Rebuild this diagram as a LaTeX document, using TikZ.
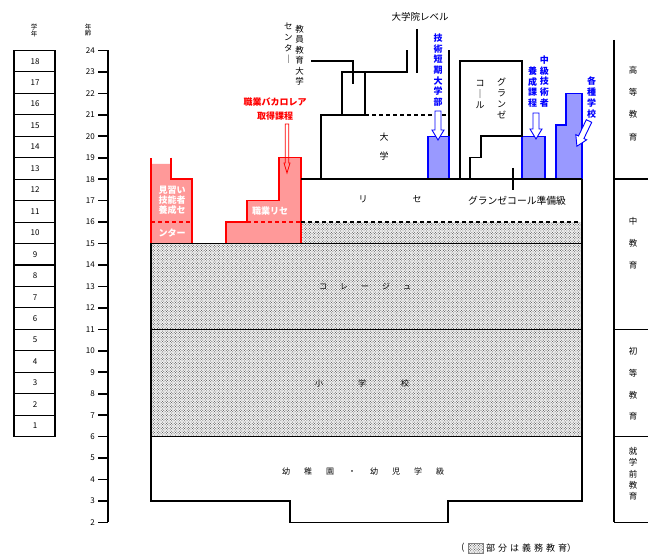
\documentclass[tikz,border=0pt]{standalone}
\usepackage{fontspec}
\setmainfont{Noto Sans CJK JP}
\usetikzlibrary{patterns}
\definecolor{pinkf}{HTML}{FF9999}
\definecolor{redl}{HTML}{FF0000}
\definecolor{bluef}{HTML}{9999FF}
\definecolor{bluel}{HTML}{0000FF}
\pgfdeclarepatternformonly{finedots}{\pgfqpoint{-0.7pt}{-0.7pt}}{\pgfqpoint{2.0pt}{2.0pt}}{\pgfqpoint{2.6pt}{2.6pt}}{%
  \pgfpathcircle{\pgfqpoint{0pt}{0pt}}{0.5pt}%
  \pgfpathcircle{\pgfqpoint{1.3pt}{1.3pt}}{0.5pt}%
  \pgfusepath{fill}}
\newcommand\HArrow[8]{%
  \begin{scope}[shift={(#2,#3)},rotate=#5]
    \draw[#1] (-#6,0) -- (#6,0) -- (#6,#4-#8) -- (#7,#4-#8) -- (0,#4) -- (-#7,#4-#8) -- (-#6,#4-#8) -- cycle;
  \end{scope}}
\begin{document}
\begin{tikzpicture}[x=1pt,y=-1pt,
  blk/.style={line width=1.6pt},
  rowln/.style={line width=1.1pt},
  dashln/.style={line width=1.6pt, dash pattern=on 4pt off 3pt},
  dotsarea/.style={preaction={fill=gray!8}, pattern=finedots, pattern color=black!70},
  redbox/.style={fill=pinkf, draw=redl, line width=1.4pt},
  redln/.style={draw=redl, line width=1.4pt},
  bluebox/.style={fill=bluef, draw=bluel, line width=1.4pt},
  bluearr/.style={fill=white, draw=bluel, line width=0.9pt},
  redarr/.style={draw=redl, line width=0.8pt},
  num/.style={inner sep=0pt, font=\fontsize{8}{8}\selectfont},
  hdr/.style={inner sep=0pt, align=center, font=\fontsize{6.5}{6}\selectfont},
  txt/.style={inner sep=0pt, font=\fontsize{9}{9}\selectfont},
  sptxt/.style={inner sep=0pt, font=\fontsize{8}{8}\selectfont},
  redtxt/.style={inner sep=0pt, align=center, text=redl, font=\fontsize{9}{14.3}\selectfont\bfseries},
  whtxt/.style={inner sep=0pt, align=center, text=white, font=\fontsize{9}{10.3}\selectfont\bfseries},
  bluetxt/.style={inner sep=0pt, align=center, text=bluel, font=\fontsize{9}{10.7}\selectfont\bfseries},
]
\useasboundingbox (0,0) rectangle (648,556);

% ---- grade column ----
\node[hdr] (gradehdr) at (34,30.5) {学\\年};
\node[hdr] (agehdr) at (88,30.5) {年\\齢};
\foreach \g in {1,...,18}{
  \pgfmathsetmacro\yt{50.5+(18-\g)*21.45}
  \draw[rowln] (14,\yt) rectangle (55,\yt+21.45);
  \node[num] (grade\g) at (35,\yt+10.7) {\g};
}
\draw[blk] (14,50.5) rectangle (55,436.6);

% ---- age axis ----
\draw[blk] (108,50.5) -- (108,522.4);
\foreach \a in {2,...,24}{
  \pgfmathsetmacro\ya{50.5+(24-\a)*21.45}
  \draw[blk] (98,\ya) -- (108,\ya);
  \node[num, anchor=east] (age\a) at (95,\ya) {\a};
}

% ---- dotted (compulsory) areas ----
\fill[dotsarea] (151,243.5) rectangle (582,436.6);
\fill[dotsarea] (301,222.1) rectangle (582,243.5);

% ---- red blocks ----
\fill[pinkf] (151,164) -- (171,164) -- (171,179.2) -- (192,179.2) -- (192,243.5) -- (151,243.5) -- cycle;
\draw[redln] (151,243.5) -- (151,157.7);
\draw[redln] (171,157.7) -- (171,179.2) -- (192,179.2) -- (192,243.5);
\draw[redln, dash pattern=on 4pt off 3pt] (151,222.1) -- (192,222.1);
\draw[redbox] (226,243.5) -- (226,222.1) -- (247,222.1) -- (247,200.6) -- (279,200.6) -- (279,157.7) -- (301,157.7) -- (301,243.5) -- cycle;
\draw[redln, dash pattern=on 4pt off 3pt] (247,222.1) -- (301,222.1);
\fill[white] (285.3,124) rectangle (288.7,157);
\HArrow{redarr}{287}{124}{49}{0}{1.7}{3}{10}

% ---- blue blocks ----
\draw[bluebox] (428,136.3) rectangle (449,179.2);
\draw[bluebox] (522,136.3) rectangle (545,179.2);
\draw[bluebox] (556,179.2) -- (556,125) -- (566,125) -- (566,93.4) -- (582,93.4) -- (582,179.2) -- cycle;

% ---- main black outline ----
\draw[blk] (301,179.2) -- (582,179.2);
\draw[dashln] (301,222.1) -- (582,222.1);
\draw[blk] (151,243.5) -- (582,243.5);
\draw[blk] (151,329.3) -- (582,329.3);
\draw[blk] (151,436.6) -- (582,436.6);
\draw[blk] (151,243.5) -- (151,501) -- (290,501) -- (290,522.4) -- (448,522.4) -- (448,501) -- (582,501) -- (582,179.2);

% ---- university ----
\draw[blk] (321,179.2) -- (321,114.8) -- (342,114.8) -- (342,72) -- (407,72) -- (407,50.5);
\draw[blk] (342,114.8) -- (365,114.8) -- (365,72);
\draw[dashln] (365,114.8) -- (449,114.8);
\draw[blk] (449,50.5) -- (449,136.3);
\draw[blk] (417,29) -- (417,73);
\draw[blk] (311,61) -- (353,61) -- (353,84);

% ---- grandes ecoles ----
\draw[blk] (460,179.2) -- (460,61) -- (522,61) -- (522,136.3) -- (481,136.3) -- (481,157.7) -- (470,157.7) -- (470,179.2);
\draw[blk] (513,168) -- (513,190);

% ---- blue arrows ----
\HArrow{bluearr}{438}{111}{29}{0}{3}{6}{10}
\HArrow{bluearr}{536}{113}{26}{0}{3}{6}{10}
\HArrow{bluearr}{589}{121}{28}{-25.6}{3}{6}{10}

% ---- right column ----
\draw[blk] (614,40) -- (614,522.4);
\draw[blk] (614,179.2) -- (648,179.2);
\draw[blk] (614,329.3) -- (648,329.3);
\draw[blk] (614,436.6) -- (648,436.6);
\draw[blk] (614,522.4) -- (648,522.4);
\node[inner sep=0pt, align=center, font=\fontsize{8.5}{22.3}\selectfont] (koto) at (633,103.5) {高\\等\\教\\育};
\node[inner sep=0pt, align=center, font=\fontsize{8.5}{21.7}\selectfont] (chuto) at (633,243.3) {中\\教\\育};
\node[inner sep=0pt, align=center, font=\fontsize{8.5}{21.7}\selectfont] (shoto) at (633,384) {初\\等\\教\\育};
\node[inner sep=0pt, align=center, font=\fontsize{8.5}{11.25}\selectfont] (shugakumae) at (633,474) {就\\学\\前\\教\\育};

% ---- labels ----
\node[txt, font=\fontsize{9.5}{9.5}\selectfont] (daigakuin) at (420,17) {大学院レベル};
\node[inner sep=0pt, align=center, font=\fontsize{8.5}{10.5}\selectfont] (kyoin) at (299.5,55.5) {教\\員\\教\\育\\大\\学};
\node[inner sep=0pt, align=center, font=\fontsize{8.5}{11}\selectfont] (center) at (288.3,43.3) {セ\\ン\\タ\\｜};
\node[redtxt] (bacpro) at (275,108.8) {職業バカロレア\\取得課程};
\node[whtxt] (minarai) at (172,200.3) {見習い\\技能者\\養成セ};
\node[whtxt] (minarai2) at (172,232.7) {ンター};
\node[whtxt] (lyceepro) at (270,211) {職業リセ};
\node[bluetxt] (tandai) at (438,70) {技\\術\\短\\期\\大\\学\\部};
\node[bluetxt] (chukyu1) at (544.3,81.3) {中\\級\\技\\術\\者};
\node[bluetxt] (chukyu2) at (532.5,87.2) {養\\成\\課\\程};
\node[bluetxt, font=\fontsize{9}{11}\selectfont\bfseries] (kakushu) at (591.7,98) {各\\種\\学\\校};
\node[inner sep=0pt, align=center, font=\fontsize{9}{11}\selectfont] (daigaku) at (384,147) {大\\[8pt]学};
\node[inner sep=0pt, align=center, font=\fontsize{9}{11}\selectfont] (grande1) at (501.7,98.3) {グ\\ラ\\ン\\ゼ};
\node[inner sep=0pt, align=center, font=\fontsize{9}{11}\selectfont] (grande2) at (480,94.2) {コ\\｜\\ル};
\node[txt] (li) at (363,199.5) {リ};
\node[txt] (se) at (417,199.5) {セ};
\node[txt, font=\fontsize{9.8}{9.8}\selectfont] (prepa) at (517,200.5) {グランゼコール準備級};
\node[sptxt] (college) at (365,286.7) {コ\hspace{13pt}レ\hspace{13pt}ー\hspace{13pt}ジ\hspace{13pt}ュ};
\node[sptxt] (ecole) at (362,383) {小\hspace{35pt}学\hspace{35pt}校};
\node[sptxt] (maternelle) at (363,471.7) {幼\hspace{14pt}稚\hspace{14pt}園\hspace{14pt}・\hspace{14pt}幼\hspace{14pt}児\hspace{14pt}学\hspace{14pt}級};

% ---- legend ----
\node[txt] (lparen) at (463,548) {(};
\draw[line width=0.6pt, gray, dotsarea] (468,543) rectangle (483,553);
\node[txt, anchor=west] (legend) at (486,548) {部\kern3pt 分\kern3pt は\kern3pt 義\kern3pt 務\kern3pt 教\kern3pt 育）};
\end{tikzpicture}
\end{document}
